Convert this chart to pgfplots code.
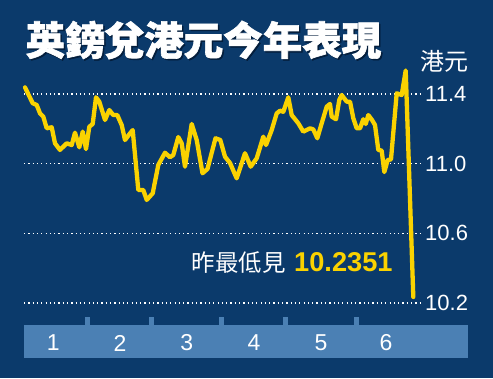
\documentclass[border=0pt]{standalone}
\usepackage{fontspec}
\setmainfont{Liberation Sans}
\newfontfamily\cjk{Noto Sans CJK TC}
\newfontfamily\cjktitle{Noto Sans CJK TC}[BoldFeatures={FakeBold=1.6}]
\usepackage{pgfplots}
\pgfplotsset{compat=1.18}
\definecolor{bg}{RGB}{11,58,107}
\definecolor{bgdark}{RGB}{4,30,60}
\definecolor{band}{RGB}{75,128,180}
\definecolor{gold}{RGB}{250,210,0}
\begin{document}
\begin{tikzpicture}
\fill[bg] (0,0) rectangle (493pt,378pt);
\useasboundingbox (0,0) rectangle (493pt,378pt);
% bottom band and notches
\fill[band] (24pt,20pt) rectangle (468pt,53pt);
\foreach \c in {87.5,151.3,221.7,285.7,356}{
  \fill[band] (\c pt-2.5pt,52pt) rectangle (\c pt+2.5pt,61pt);
}
% title
\node[text=bgdark,inner sep=0pt] at (205pt,336.5pt) {\cjktitle\bfseries\fontsize{39.5}{40}\selectfont 英鎊兌港元今年表現};
\node[text=white,inner sep=0pt] at (203.5pt,338pt) {\cjktitle\bfseries\fontsize{39.5}{40}\selectfont 英鎊兌港元今年表現};
\node[text=white,inner sep=0pt] at (444pt,317pt) {\cjk\fontsize{24}{24}\selectfont 港元};
\begin{axis}[
  at={(24pt,53pt)}, anchor=south west, scale only axis,
  width=396pt, height=265pt,
  xmin=24, xmax=420, ymin=10.0743, ymax=11.5951,
  clip=false,
  axis line style={draw=none},
  major tick length=0pt,
  ytick={10.2,10.6,11.0,11.4},
  yticklabel pos=right,
  /pgf/number format/assume math mode=true,
  yticklabel style={anchor=west, inner sep=0pt, xshift=5pt, text=white,
    font=\fontsize{22}{22}\selectfont,
    /pgf/number format/.cd, fixed, fixed zerofill, precision=1},
  ymajorgrids,
  grid style={white, line width=1.2pt, dash pattern=on 1.2pt off 3.1pt},
  xtick={53.3,120,186.7,254,321,386},
  xticklabels={1,2,3,4,5,6},
  xticklabel style={anchor=center, yshift=-18pt, text=white,
    font=\fontsize{23}{23}\selectfont},
]
\addplot[gold, line width=4.3pt, line join=round, line cap=round] coordinates {
(25,11.438) (32.7,11.347) (36.7,11.337) (40,11.289) (43.3,11.270)
(46.7,11.203) (51.7,11.209) (55,11.117) (60,11.079) (66.7,11.117)
(71.7,11.107) (75,11.178) (79.3,11.094) (82.7,11.184) (86,11.084)
(89.3,11.212) (92.7,11.228) (96,11.381) (99.3,11.356) (105,11.251)
(109.3,11.308) (113.3,11.279) (117.3,11.279) (121.7,11.222) (125,11.136)
(130,11.174) (132.7,11.193) (138.3,10.849) (143.3,10.849) (146.7,10.792)
(152.7,10.830) (158.3,10.993) (165,11.063) (170,11.037) (173.3,11.050)
(178.3,11.153) (181.7,11.117) (185,10.983) (191.7,11.228) (196.7,11.136)
(202.5,10.945) (207.5,10.970) (215.5,11.146) (220.3,11.136) (225,11.040)
(230,11.004) (236.7,10.916) (245,11.060) (250.7,10.983) (256.7,11.031)
(263.3,11.155) (266,11.107) (271.7,11.193) (276.7,11.289) (280,11.304)
(283.3,11.298) (288.3,11.381) (291.7,11.279) (298.3,11.232) (303.3,11.184)
(310,11.203) (313.3,11.197) (317.3,11.146) (321.7,11.232) (326.7,11.327)
(330,11.343) (331.7,11.270) (336,11.255) (339.3,11.366) (341.7,11.394)
(346.7,11.356) (350,11.356) (353.3,11.261) (356.7,11.203) (360,11.203)
(363.3,11.255) (365.7,11.228) (368.3,11.279) (372,11.251) (375,11.222)
(378.3,11.079) (381.7,11.075) (384.3,10.952) (387.7,11.021) (391,11.025)
(396.7,11.404) (401.7,11.394) (405.7,11.535) (413.3,10.2351)
};
\end{axis}
\node[anchor=base west, inner sep=0pt, text=white] at (191.5pt,106.5pt)
  {\cjk\fontsize{23.5}{23.5}\selectfont 昨最低見\hspace{8.5pt}{\fontsize{27.2}{27.2}\selectfont\bfseries\color{gold}\rmfamily 10.2351}};
\end{tikzpicture}
\end{document}
